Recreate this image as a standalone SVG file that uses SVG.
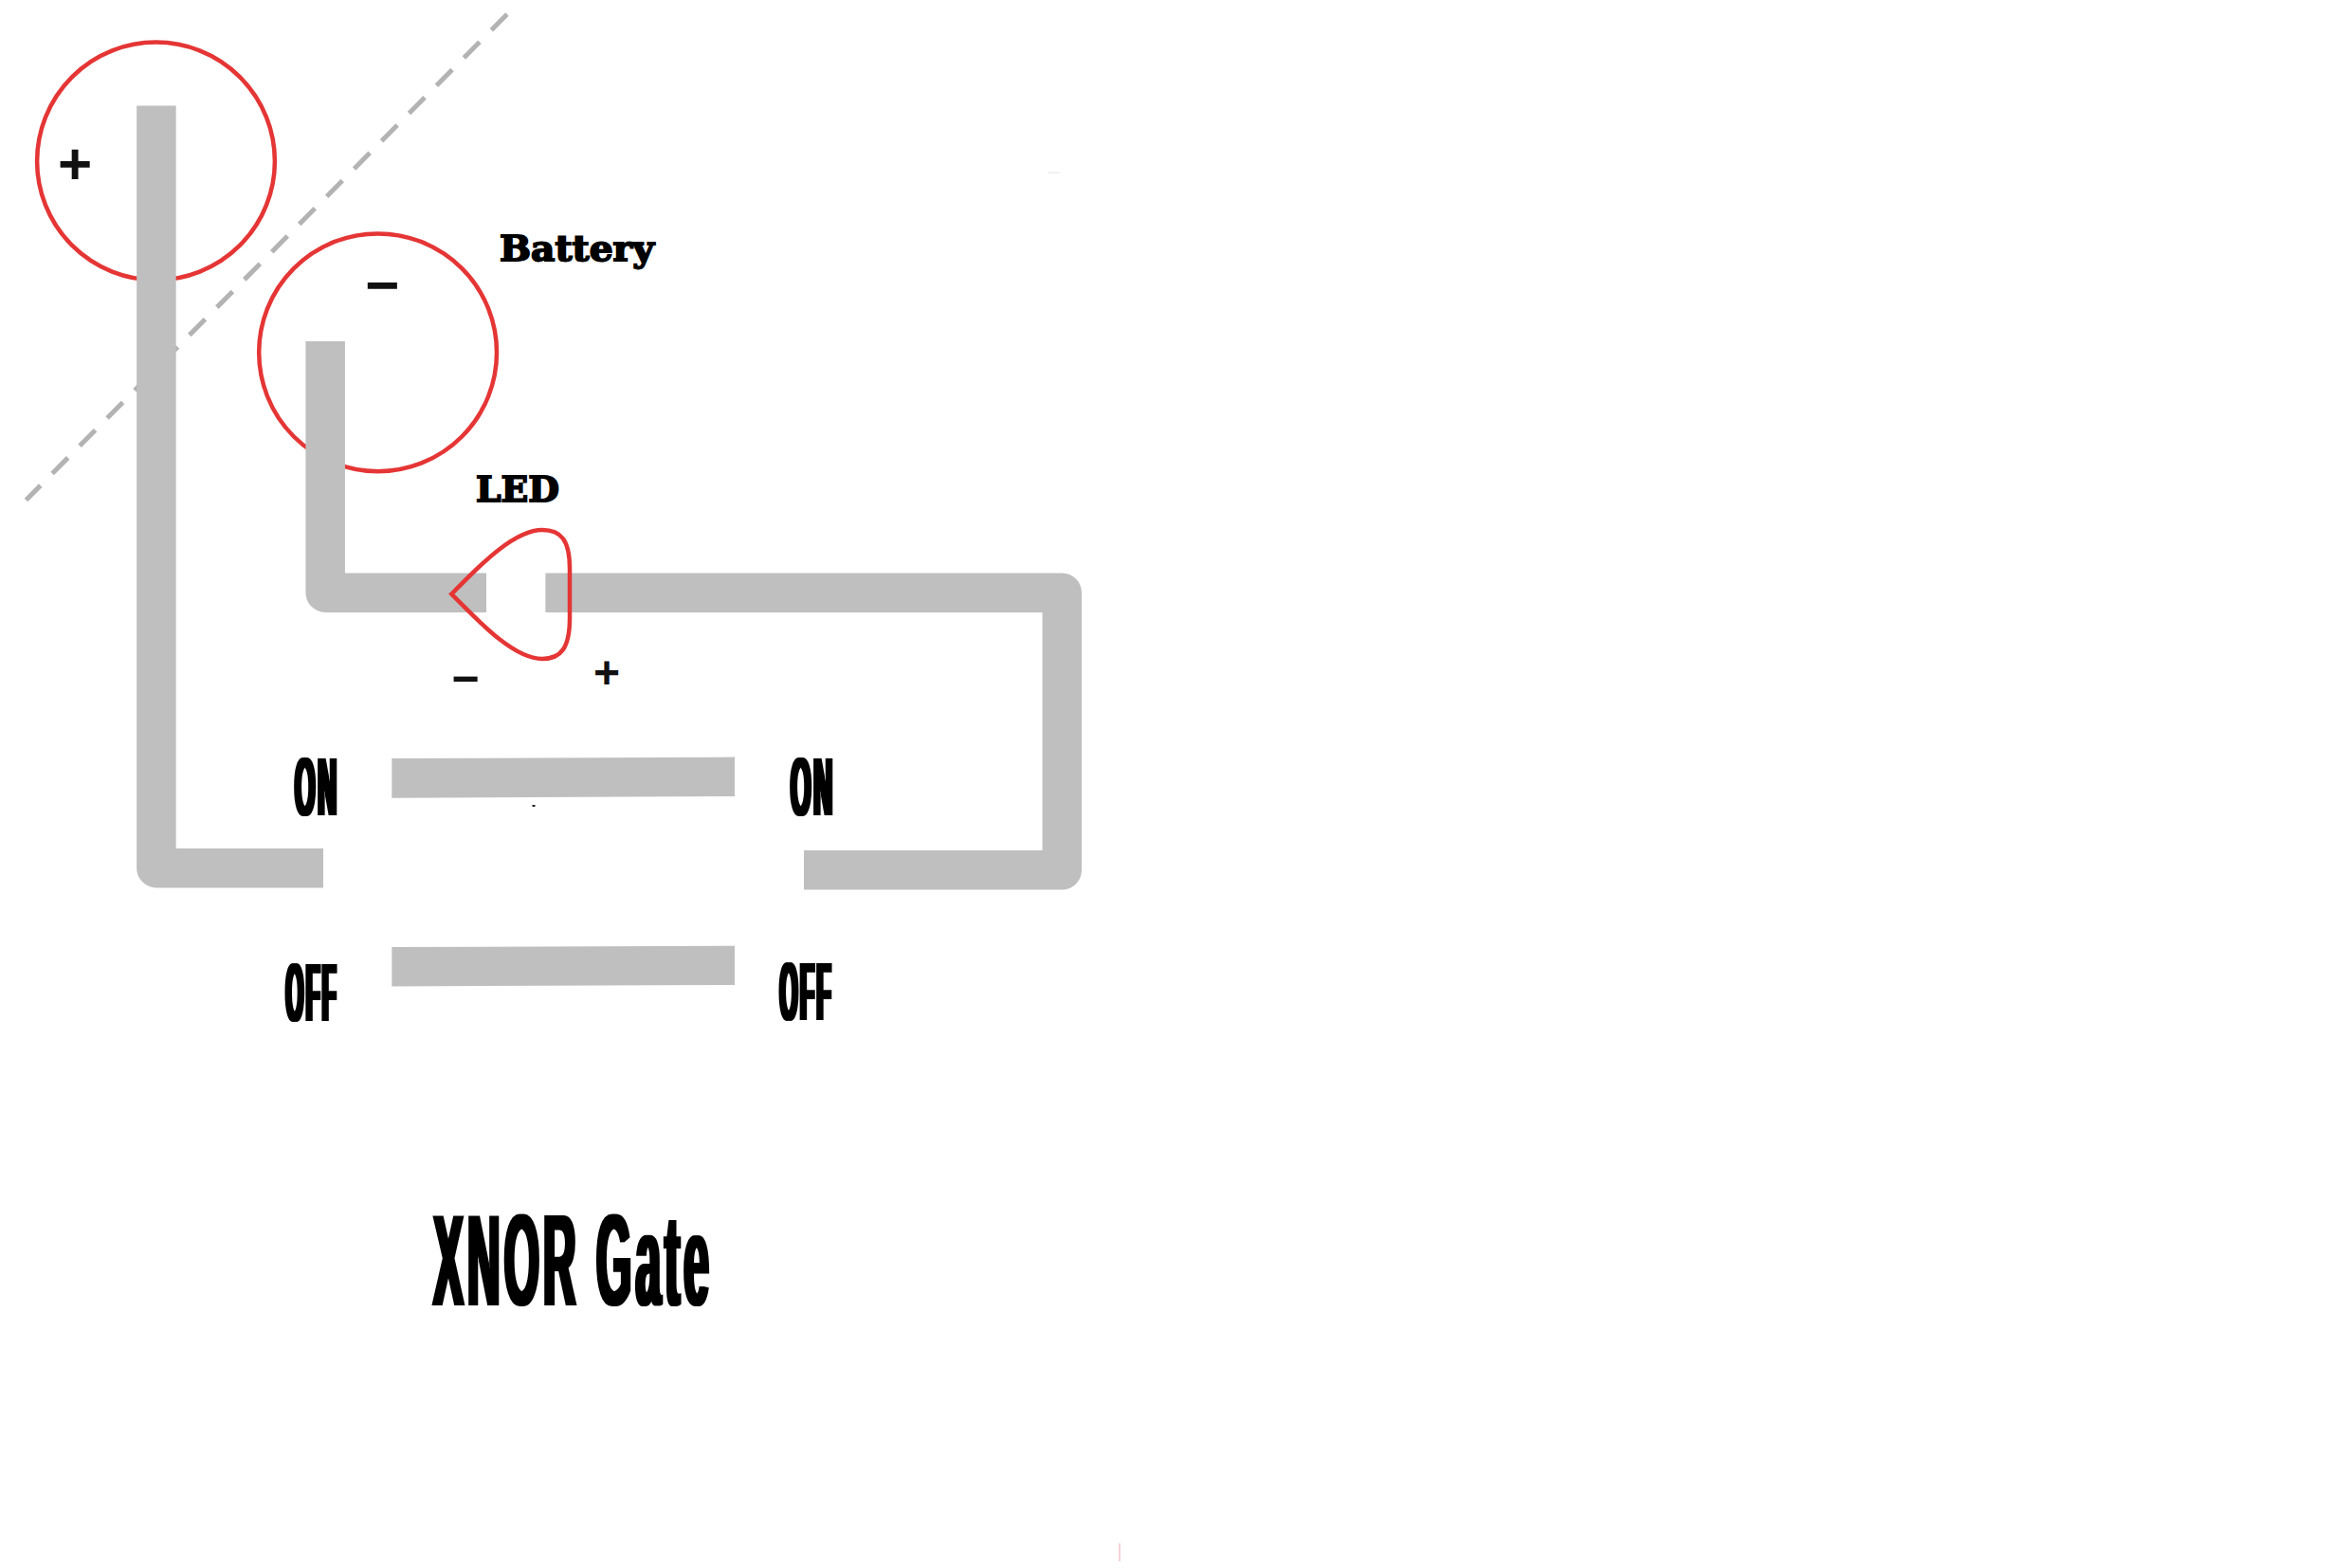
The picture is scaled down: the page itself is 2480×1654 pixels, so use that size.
<svg xmlns="http://www.w3.org/2000/svg" width="2480" height="1654" viewBox="0 0 2480 1654">
<style>
.wire{fill:none;stroke:#bfbfbf;stroke-width:41.5;stroke-linejoin:round}
.bar{fill:#bfbfbf}
.red{fill:none;stroke:#e53535;stroke-width:4.5}
.dash{fill:none;stroke:#b3b3b3;stroke-width:5;stroke-dasharray:23.5 17.65}
.slab{font-family:"DejaVu Serif",serif;font-weight:700;font-size:37px;fill:#000;stroke:#000;stroke-width:1.8}
.imp{font-family:"Liberation Sans",Arial,sans-serif;font-weight:700;fill:#000;font-size:87px;letter-spacing:9px}
.big{font-size:137px;letter-spacing:12px}
.sign{font-family:"Liberation Sans",Arial,sans-serif;font-weight:700;fill:#111;text-anchor:middle}
</style>
<defs>
<filter id="heavy" x="-20%" y="-5%" width="140%" height="110%"><feMorphology operator="dilate" radius="2.2 0"/></filter>
<filter id="heavy2" x="-5%" y="-5%" width="110%" height="110%"><feMorphology operator="dilate" radius="2 0"/></filter>
</defs>
<rect width="2480" height="1654" fill="#fff"/>
<path class="dash" d="M534.9 15L27.5 527.5"/>
<path d="M1106 182H1118" stroke="#e4e4e4" stroke-width="1" fill="none"/>
<path d="M1181 1628V1647" stroke="#f6c4cc" stroke-width="1.5" fill="none"/>
<rect x="561.5" y="849" width="3" height="2" fill="#222"/>
<g id="battery">
<circle id="battery-plus" class="red" cx="164.5" cy="170" r="125.4"/>
<circle id="battery-minus" class="red" cx="398.6" cy="371.8" r="125.4"/>
<text class="sign" x="79" y="193.5" font-size="62">+</text>
<text class="sign" x="403" y="322" font-size="62">−</text>
<text class="slab" x="527" y="275" textLength="163" lengthAdjust="spacingAndGlyphs">Battery</text>
</g>
<g id="connectors">
<path class="wire" d="M164.9 111.5V915.7H341"/>
<path class="wire" d="M343.2 360V625.2H513"/>
<path class="wire" d="M575.4 625.2H1120.3V917.8H848"/>
</g>
<g id="led">
<path class="red" d="M476.3 626.6C500 603 540 559 572 559C592 559 601 570 601 600V652C601 683 592 695 572 695C540 695 500 650 476.3 626.6Z"/>
<text class="slab" x="502" y="528.5" textLength="88" lengthAdjust="spacingAndGlyphs">LED</text>
<text class="sign" x="491" y="733" font-size="50">−</text>
<text class="sign" x="640" y="726" font-size="48">+</text>
</g>
<g id="switch-on">
<path class="bar" d="M413.3 800L775 798.6V840L413.3 841.7Z"/>
<text class="imp" x="311" y="860" textLength="47" lengthAdjust="spacingAndGlyphs" filter="url(#heavy)">ON</text>
<text class="imp" x="834" y="860" textLength="47" lengthAdjust="spacingAndGlyphs" filter="url(#heavy)">ON</text>
</g>
<g id="switch-off">
<path class="bar" d="M413.3 999L775 997.8V1039L413.3 1040.5Z"/>
<text class="imp" x="301.5" y="1077" textLength="55.5" lengthAdjust="spacingAndGlyphs" filter="url(#heavy)">OFF</text>
<text class="imp" x="822.5" y="1076" textLength="56.5" lengthAdjust="spacingAndGlyphs" filter="url(#heavy)">OFF</text>
</g>
<text id="title" class="imp big" x="457" y="1377" textLength="295" lengthAdjust="spacingAndGlyphs" filter="url(#heavy2)">XNOR Gate</text>
</svg>
